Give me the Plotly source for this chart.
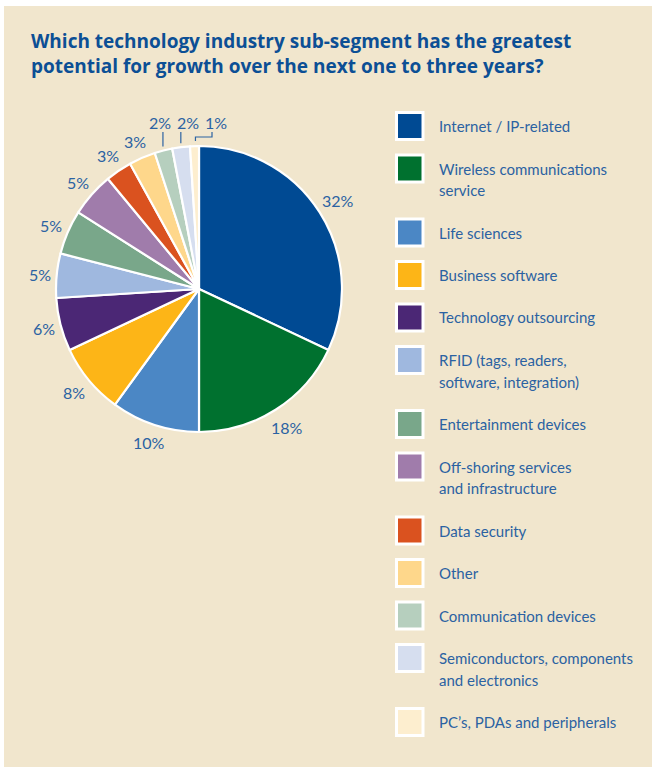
import math
import plotly.graph_objects as go

W, H = 661, 767

categories = [
    "Internet / IP-related",
    "Wireless communications<br>service",
    "Life sciences",
    "Business software",
    "Technology outsourcing",
    "RFID (tags, readers,<br>software, integration)",
    "Entertainment devices",
    "Off-shoring services<br>and infrastructure",
    "Data security",
    "Other",
    "Communication devices",
    "Semiconductors, components<br>and electronics",
    "PC\u2019s, PDAs and peripherals",
]
shares = [32, 18, 10, 8, 6, 5, 5, 5, 3, 3, 2, 2, 1]
colors = [
    "#004a93", "#00712f", "#4b87c5", "#fdb517", "#4b2775", "#9fb8df",
    "#79a78a", "#a07cab", "#da521f", "#fed78b", "#b6cfbe", "#d6deef", "#fdeecf",
]

TITLE = ("Which technology industry sub-segment has the greatest<br>"
         "potential for growth over the next one to three years?")

BG = "#f1e6cd"
TITLE_BLUE = "#0c4f95"
TEXT_BLUE = "#2b62a2"

# pie geometry in pixels
CX, CY, R = 199, 289, 143


def px(x):
    return x / W


def py(y):
    return 1 - y / H


fig = go.Figure()
fig.add_trace(go.Pie(
    labels=[c.replace("<br>", " ") for c in categories],
    values=shares,
    marker=dict(colors=colors, line=dict(color="white", width=2.2)),
    sort=False,
    direction="clockwise",
    rotation=0,
    textinfo="none",
    hoverinfo="label+value",
    showlegend=False,
    domain=dict(x=[px(CX - R), px(CX + R)], y=[py(CY + R), py(CY - R)]),
))

annotations = []
shapes = []

# beige panel
shapes.append(dict(type="rect", xref="paper", yref="paper",
                   x0=px(4), x1=px(652), y0=-0.01, y1=py(6),
                   fillcolor=BG, line=dict(width=0), layer="below"))

# title
annotations.append(dict(
    text=TITLE, xref="paper", yref="paper", x=px(29), y=py(26),
    xanchor="left", yanchor="top", showarrow=False, align="left",
    font=dict(family="Open Sans", size=19, color=TITLE_BLUE, weight="bold"),
))

# percentage labels around the pie
total = sum(shares)
cum = 0
FS = 16
# small slices at the top get labels lifted onto one row with leader lines
lifted = {10: 160, 11: 188, 12: 216}
ROW_Y = 123
for i, v in enumerate(shares):
    mid = (cum + v / 2) / total * 2 * math.pi
    cum += v
    s, c = math.sin(mid), math.cos(mid)
    txt = f"{v}%"
    if i in lifted:
        lx, ly = lifted[i], ROW_Y
        ex, ey = CX + (R + 2) * s, CY - (R + 2) * c
        if i == 12:
            pts = [(ex + 1, ey - 3), (ex + 1, 137), (212, 137), (212, 132)]
        else:
            pts = [(ex, ey - 2), (ex, 132)]
        path = "M " + " L ".join(f"{px(a)},{py(b)}" for a, b in pts)
        shapes.append(dict(type="path", xref="paper", yref="paper", path=path,
                           line=dict(color=TEXT_BLUE, width=1.2)))
    else:
        w = 8.6 * len(txt)
        h = 16
        d = R + 7 + abs(s) * w / 2 + abs(c) * h / 2
        lx, ly = CX + d * s, CY - d * c
    annotations.append(dict(
        text=txt, xref="paper", yref="paper", x=px(lx), y=py(ly),
        xanchor="center", yanchor="middle", showarrow=False,
        font=dict(family="Lato", size=FS, color=TEXT_BLUE),
    ))

# legend: swatches and labels
y = 126
for i, (name, col) in enumerate(zip(categories, colors)):
    lines = name.split("<br>")
    shapes.append(dict(type="rect", xref="paper", yref="paper",
                       x0=px(396.5), x1=px(423), y0=py(y + 13.5), y1=py(y - 13.5),
                       fillcolor=col, line=dict(color="white", width=3)))
    for k, ln in enumerate(lines):
        annotations.append(dict(
            text=ln, xref="paper", yref="paper", x=px(437), y=py(y + 21.5 * k),
            xanchor="left", yanchor="middle", showarrow=False,
            font=dict(family="Lato", size=15, color=TEXT_BLUE),
        ))
    y += 42.5 + 21.5 * (len(lines) - 1)

fig.update_layout(
    width=W, height=H,
    margin=dict(l=0, r=0, t=0, b=0),
    paper_bgcolor="white",
    plot_bgcolor="white",
    shapes=shapes,
    annotations=annotations,
)

fig.write_html("out.html")
